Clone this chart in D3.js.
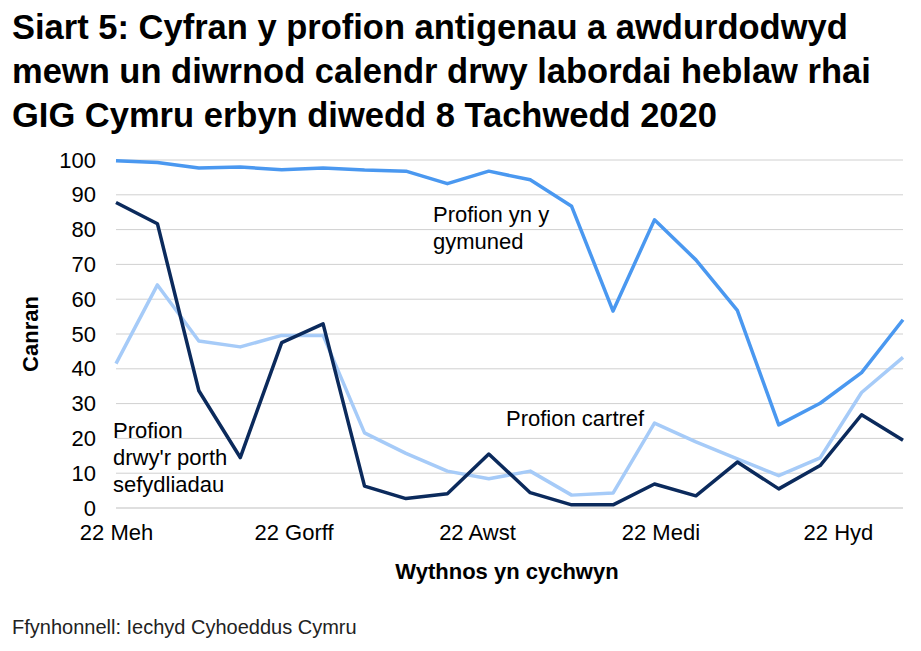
<!DOCTYPE html>
<html><head><meta charset="utf-8">
<script src="https://cdn.jsdelivr.net/npm/d3@7"></script>
<style>body{margin:0;background:#fff;font-family:"Liberation Sans",Arial,sans-serif}</style>
</head><body>
<script>
var weeks = ["2020-06-22","2020-06-29","2020-07-06","2020-07-13","2020-07-20","2020-07-27","2020-08-03","2020-08-10","2020-08-17","2020-08-24","2020-08-31","2020-09-07","2020-09-14","2020-09-21","2020-09-28","2020-10-05","2020-10-12","2020-10-19","2020-10-26","2020-11-02"];
var community = [99.8,99.3,97.7,98,97.2,97.7,97.1,96.8,93.2,96.8,94.3,86.7,56.6,82.8,71.3,56.8,23.9,30.1,38.9,54.1];
var satellite = [87.8,81.7,33.7,14.5,47.5,52.9,6.3,2.7,4.1,15.5,4.4,0.9,0.9,6.9,3.5,13.2,5.5,12.2,26.8,19.5];
var home = [41.5,64.1,48,46.3,49.6,49.6,21.6,15.7,10.6,8.4,10.6,3.7,4.3,24.4,19,14.1,9.3,14.4,33.2,43.3];
var tickDates = ["2020-06-22","2020-07-22","2020-08-22","2020-09-22","2020-10-22"];
var tickLabels = ["22 Meh","22 Gorff","22 Awst","22 Medi","22 Hyd"];
var yTicks = [0,10,20,30,40,50,60,70,80,90,100];

var parse = d3.timeParse("%Y-%m-%d");
var dates = weeks.map(parse);

var svg = d3.select("body").append("svg").attr("width",921).attr("height",651);

svg.selectAll(".title").data(["Siart 5: Cyfran y profion antigenau a awdurdodwyd","mewn un diwrnod calendr drwy labordai heblaw rhai","GIG Cymru erbyn diwedd 8 Tachwedd 2020"])
  .enter().append("text").attr("x",12).attr("y",function(d,i){return 39+i*44;})
  .attr("font-size",34.5).attr("font-weight","bold").text(function(d){return d;});

var x = d3.scaleTime().domain([dates[0],dates[dates.length-1]]).range([116,903]);
var y = d3.scaleLinear().domain([0,100]).range([508,160]);

svg.selectAll(".grid").data(yTicks).enter().append("line")
  .attr("x1",116).attr("x2",903).attr("y1",function(d){return y(d);}).attr("y2",function(d){return y(d);})
  .attr("stroke",function(d){return d==0?"#bfbfbf":"#d0d0d0";}).attr("stroke-width",1);

svg.append("g").attr("transform","translate(116,0)")
  .call(d3.axisLeft(y).tickValues(yTicks).tickSize(0).tickPadding(20))
  .call(function(g){g.select(".domain").remove();})
  .selectAll("text").attr("font-size",22).attr("fill","#000").attr("font-family","Liberation Sans, Arial");

var xa = svg.append("g").attr("transform","translate(0,508)")
  .call(d3.axisBottom(x).tickValues(tickDates.map(parse)).tickSize(0).tickPadding(16)
    .tickFormat(function(d,i){return tickLabels[i];}));
xa.select(".domain").remove();
xa.selectAll("text").attr("font-size",22).attr("fill","#000").attr("font-family","Liberation Sans, Arial");

var line = function(vals){
  return d3.line().x(function(d,i){return x(dates[i]);}).y(function(d){return y(d);})(vals);
};
[[home,"#a6cbf8"],[satellite,"#0b2a5c"],[community,"#4a98f0"]].forEach(function(s){
  svg.append("path").attr("d",line(s[0])).attr("fill","none").attr("stroke",s[1]).attr("stroke-width",3.5).attr("stroke-linejoin","round");
});

function label(lines,xp,yp){
  svg.append("g").selectAll("text").data(lines).enter().append("text")
    .attr("x",xp).attr("y",function(d,i){return yp+i*27;}).attr("font-size",22).text(function(d){return d;});
}
label(["Profion yn y","gymuned"],433,222);
label(["Profion cartref"],506,426);
label(["Profion","drwy'r porth","sefydliadau"],113,438);

svg.append("text").attr("transform","translate(38,334) rotate(-90)").attr("text-anchor","middle")
  .attr("font-size",22).attr("font-weight","bold").text("Canran");
svg.append("text").attr("x",507).attr("y",579).attr("text-anchor","middle")
  .attr("font-size",22).attr("font-weight","bold").text("Wythnos yn cychwyn");
svg.append("text").attr("x",12).attr("y",634).attr("font-size",20).attr("fill","#222").text("Ffynhonnell: Iechyd Cyhoeddus Cymru");
</script>
</body></html>
